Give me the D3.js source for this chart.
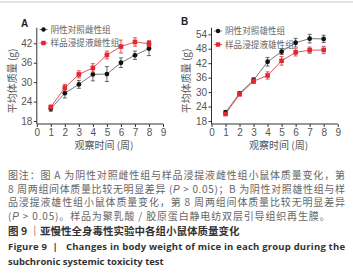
<!DOCTYPE html>
<html><head><meta charset="utf-8">
<script src="https://cdn.jsdelivr.net/npm/d3@7/dist/d3.min.js"></script>
<style>
body{margin:0;background:#fff;}
svg{display:block;}
</style></head>
<body>
<svg id="c" width="353" height="278"></svg>
<script>
// ---- data ----
const weeks = [1,2,3,4,5,6,7,8];
const xTicks = [0,1,2,3,4,5,6,7,8,9];
const seriesNames = ["阴性对照雌性组","样品浸提液雌性组","阴性对照雄性组","样品浸提液雄性组"];
const aControl = [21.8,26.6,29.3,32.4,32.5,36.0,38.3,40.4];
const aControlErr = [0.8,1.5,1.2,2.0,2.3,1.5,1.3,2.2];
const aSample = [22.3,28.3,32.4,34.4,38.4,41.0,42.4,41.9];
const aSampleErr = [0.6,1.0,1.1,1.3,1.2,2.0,1.3,0.9];
const bControl = [21.6,29.4,35.0,42.6,46.8,50.5,52.2,52.1];
const bControlErr = [0.8,0.8,1.0,1.8,1.2,1.8,1.8,1.5];
const bSample = [20.9,29.1,34.5,36.9,43.0,46.5,47.4,47.5];
const bSampleErr = [0.5,0.6,0.9,1.5,1.8,1.5,1.3,1.5];
const aYTicks = [18,24,30,36,42];
const bYTicks = [18,24,30,36,42,48,54];
const captionLines = [
  "图注：图 A 为阴性对照雌性组与样品浸提液雌性组小鼠体质量变化，第",
  "8 周两组间体质量比较无明显差异 (P > 0.05)；B 为阴性对照雄性组与样",
  "品浸提液雄性组小鼠体质量变化，第 8 周两组间体质量比较无明显差异",
  "(P > 0.05)。样品为聚乳酸 / 胶原蛋白静电纺双层引导组织再生膜。"
];
const figTitleCN = "图 9 ｜亚慢性全身毒性实验中各组小鼠体质量变化";
const figTitleEN1 = "Figure 9  |   Changes in body weight of mice in each group during the";
const figTitleEN2 = "subchronic systemic toxicity test";

const svg = d3.select("#c");
const gray = "#555";
const red = "#e2282f";
const cjk = "'Noto Sans CJK SC', sans-serif";
const latin = "'Liberation Sans', Arial, sans-serif";

// top rule
svg.append("line").attr("x1",0).attr("x2",353).attr("y1",2).attr("y2",2)
  .attr("stroke","#c8c8c8").attr("stroke-width",1);

function panel(o){
  const g = svg.append("g");
  const x = d3.scaleLinear().domain([0,9]).range([o.x0,o.x1]);
  const y = d3.scaleLinear().domain([18,o.ymaxTick]).range([121,o.yTickTop]);
  const axisY = 124;
  g.append("line").attr("x1",o.x0).attr("x2",o.x0).attr("y1",27.7).attr("y2",axisY)
    .attr("stroke","#333").attr("stroke-width",1);
  const ya = g.append("g").attr("transform",`translate(${o.x0},0)`)
    .call(d3.axisLeft(y).tickValues(o.yTicks).tickSize(3).tickPadding(1.5));
  ya.select(".domain").remove();
  ya.selectAll("line").attr("stroke","#333");
  ya.selectAll("text").attr("font-family",latin).attr("font-size",10).attr("fill",gray);
  const xa = g.append("g").attr("transform",`translate(0,${axisY})`)
    .call(d3.axisBottom(x).tickValues(xTicks).tickSize(3).tickPadding(2).tickFormat(d3.format("d")));
  xa.select(".domain").attr("stroke","#333").attr("d",`M${o.x0},0H${o.x1}`);
  xa.selectAll("line").attr("stroke","#333");
  xa.selectAll("text").attr("font-family",latin).attr("font-size",10).attr("fill",gray);
  g.append("text").attr("x",(o.x0+o.x1)/2+4).attr("y",149).attr("text-anchor","middle")
    .attr("font-family",cjk).attr("font-size",10).attr("fill",gray).text("观察时间 (周)");
  g.append("text").attr("transform",`translate(${o.ytx},81) rotate(-90)`).attr("text-anchor","middle")
    .attr("font-family",cjk).attr("font-size",10).attr("fill",gray).text("平均体质量 (g)");
  g.append("text").attr("x",o.lx).attr("y",o.ly).attr("font-family",latin).attr("font-weight","bold")
    .attr("font-size",10).attr("fill","#222").text(o.label);
  const line = d3.line().x((d,i)=>x(weeks[i])).y(d=>y(d));
  o.series.forEach(s=>{
    g.append("path").datum(s.v).attr("d",line).attr("fill","none")
      .attr("stroke",s.lc).attr("stroke-width",0.8);
    s.v.forEach((v,i)=>{
      const cx=x(weeks[i]);
      const e=s.e[i];
      g.append("line").attr("x1",cx).attr("x2",cx).attr("y1",y(v-e)).attr("y2",y(v+e))
        .attr("stroke",s.ec).attr("stroke-width",0.8);
      [v-e,v+e].forEach(t=>g.append("line").attr("x1",cx-2).attr("x2",cx+2)
        .attr("y1",y(t)).attr("y2",y(t)).attr("stroke",s.ec).attr("stroke-width",0.8));
    });
    s.v.forEach((v,i)=>{
      const cx=x(weeks[i]);
      if(s.shape==="circle") g.append("circle").attr("cx",cx).attr("cy",y(v)).attr("r",2.4).attr("fill",s.c);
      else g.append("rect").attr("x",cx-2.3).attr("y",y(v)-2.3).attr("width",4.6).attr("height",4.6).attr("fill",s.c);
    });
  });
  o.series.forEach((s,k)=>{
    const ly = o.legY[k];
    g.append("line").attr("x1",o.legX-4).attr("x2",o.legX+4).attr("y1",ly).attr("y2",ly)
      .attr("stroke",s.lc).attr("stroke-width",0.8);
    if(s.shape==="circle") g.append("circle").attr("cx",o.legX).attr("cy",ly).attr("r",2.2).attr("fill",s.c);
    else g.append("rect").attr("x",o.legX-2.2).attr("y",ly-2.2).attr("width",4.4).attr("height",4.4).attr("fill",s.c);
    g.append("text").attr("x",o.legX+7).attr("y",ly+3).attr("font-family",cjk).attr("font-size",8.6)
      .attr("fill","#666").text(s.name);
  });
}

panel({x0:36.8,x1:163,ymaxTick:42,yTickTop:43.3,yTicks:aYTicks,ytx:16,lx:21,ly:27,label:"A",
  legX:43.5,legY:[29.5,43],
  series:[
    {name:seriesNames[0],v:aControl,e:aControlErr,c:"#111",lc:"#555",ec:"#444",shape:"circle"},
    {name:seriesNames[1],v:aSample,e:aSampleErr,c:red,lc:red,ec:red,shape:"rect"}
  ]});
panel({x0:211.5,x1:337.7,ymaxTick:54,yTickTop:34.3,yTicks:bYTicks,ytx:190,lx:181,ly:25,label:"B",
  legX:218,legY:[31,44.5],
  series:[
    {name:seriesNames[2],v:bControl,e:bControlErr,c:"#111",lc:"#555",ec:"#444",shape:"circle"},
    {name:seriesNames[3],v:bSample,e:bSampleErr,c:red,lc:red,ec:red,shape:"rect"}
  ]});

// caption: each line built from segments; "P" italic; justified lines 1-3
const capY = [179,192.5,206,219.5];
const left = 8, right = 345;
let lastLs = 0;
captionLines.forEach((t,i)=>{
  const segs = [];
  t.split("P").forEach((p,j,arr)=>{
    if(p) segs.push({t:p,it:false});
    if(j<arr.length-1) segs.push({t:"P",it:true});
  });
  const nodes = segs.map(s=>svg.append("text").attr("y",capY[i])
    .attr("font-family", s.it?latin:cjk).attr("font-style", s.it?"italic":"normal")
    .attr("font-size",10).attr("fill","#666").style("white-space","pre").text(s.t));
  let ls = lastLs;
  if(i<3){
    const W = d3.sum(nodes,n=>n.node().getComputedTextLength());
    ls = (right-left-W)/(t.length-1);
    lastLs = ls;
  }
  let x = left;
  nodes.forEach(n=>{
    n.attr("letter-spacing",ls).attr("x",x);
    x += n.node().getComputedTextLength();
  });
});
svg.append("text").attr("x",8).attr("y",235).attr("font-family",cjk).attr("font-size",10.5)
  .attr("font-weight","bold").attr("fill","#333").text(figTitleCN);
svg.append("text").attr("x",8).attr("y",250).attr("font-family","'Open Sans', sans-serif").attr("font-size",9.5)
  .attr("font-weight","bold").attr("fill","#333").attr("textLength",337).attr("lengthAdjust","spacing")
  .style("white-space","pre").text(figTitleEN1);
svg.append("text").attr("x",8).attr("y",265).attr("font-family","'Open Sans', sans-serif").attr("font-size",9.5)
  .attr("font-weight","bold").attr("fill","#333").text(figTitleEN2);
</script>
</body></html>
